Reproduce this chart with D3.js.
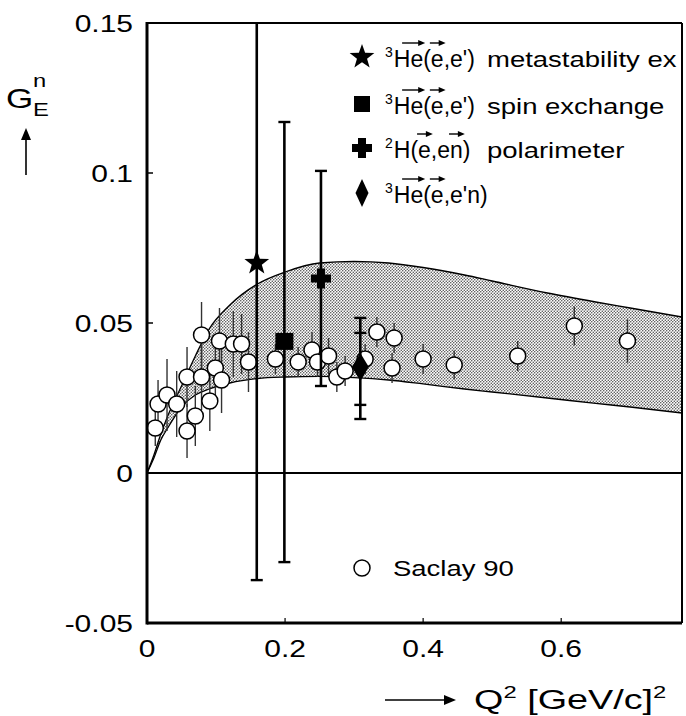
<!DOCTYPE html>
<html>
<head>
<meta charset="utf-8">
<script src="https://cdn.jsdelivr.net/npm/d3@7"></script>
<style>
  body { margin: 0; background: #fff; }
  text { font-family: "Liberation Sans", Arial, sans-serif; fill: #000; }
</style>
</head>
<body>
<div id="container"></div>
<script>
/* CONSTANTS AND GLOBALS */
const width = 686,
      height = 716,
      margin = {top: 23, bottom: 93, left: 147, right: 4};

// the scanned figure is stretched sideways, so most text is too
const sx = 1.25;

/* DATA */
// theory band
const bandQ     = [0, 0.01, 0.02, 0.03, 0.05, 0.07, 0.09, 0.12, 0.16, 0.2, 0.25, 0.3, 0.35, 0.4, 0.46, 0.5, 0.58, 0.65, 0.7, 0.775];
const bandUpper = [0, 0.006, 0.013, 0.019, 0.029, 0.039, 0.048, 0.056, 0.063, 0.067, 0.070, 0.0705, 0.070, 0.0685, 0.066, 0.064, 0.060, 0.057, 0.055, 0.052];
const bandLower = [0, 0.005, 0.011, 0.015, 0.022, 0.026, 0.028, 0.030, 0.0315, 0.032, 0.0322, 0.0318, 0.031, 0.0297, 0.028, 0.027, 0.025, 0.0232, 0.022, 0.020];

// Saclay 90 points
const saclayQ   = [0.012, 0.016, 0.029, 0.043, 0.058, 0.070, 0.058, 0.079, 0.091, 0.099, 0.108, 0.079, 0.105, 0.125, 0.137, 0.147, 0.186, 0.219, 0.239, 0.247, 0.263, 0.275, 0.287, 0.316, 0.333, 0.355, 0.358, 0.400, 0.445, 0.537, 0.619, 0.696];
const saclayG   = [0.015, 0.023, 0.026, 0.023, 0.014, 0.019, 0.032, 0.032, 0.024, 0.035, 0.031, 0.046, 0.044, 0.043, 0.043, 0.037, 0.038, 0.037, 0.041, 0.037, 0.039, 0.032, 0.034, 0.038, 0.047, 0.035, 0.045, 0.038, 0.036, 0.039, 0.049, 0.044];
const saclayErr = [0.006, 0.008, 0.012, 0.011, 0.009, 0.010, 0.010, 0.011, 0.010, 0.011, 0.011, 0.011, 0.011, 0.011, 0.010, 0.010, 0.005, 0.005, 0.006, 0.005, 0.006, 0.005, 0.005, 0.005, 0.005, 0.005, 0.005, 0.005, 0.0048, 0.005, 0.0065, 0.0072];

// polarisation experiments: star, square, cross, diamond
const expNames = ["metastability ex", "spin exchange", "polarimeter", ""];
const expShape = ["star", "square", "cross", "diamond"];
const expQ     = [0.159, 0.199, 0.252, 0.309];
const expG     = [0.070, 0.0437, 0.0648, 0.0353];
const expLo    = [-0.0357, -0.0297, 0.029, 0.018];
const expHi    = [0.176, 0.117, 0.1007, 0.0517];
// inner (statistical) bar, only the diamond has one
const diamondLo = 0.0227, diamondHi = 0.0467;

const xTicks = [0, 0.2, 0.4, 0.6];
const yTicks = [-0.05, 0, 0.05, 0.1, 0.15];
const yTickLabels = ["-0.05", "0", "0.05", "0.1", "0.15"];

/* SCALES */
const xScale = d3.scaleLinear().domain([0, 0.775]).range([margin.left, width - margin.right]);
const yScale = d3.scaleLinear().domain([-0.05, 0.15]).range([height - margin.bottom, margin.top]);

const svg = d3.select("#container")
  .append("svg")
  .attr("width", width)
  .attr("height", height);

const defs = svg.append("defs");
const pat = defs.append("pattern")
  .attr("id", "stipple")
  .attr("patternUnits", "userSpaceOnUse")
  .attr("width", 3).attr("height", 3);
pat.append("rect").attr("width", 3).attr("height", 3).attr("fill", "#fff");
pat.append("circle").attr("cx", 0.75).attr("cy", 0.75).attr("r", 0.75).attr("fill", "#222");
pat.append("circle").attr("cx", 2.25).attr("cy", 2.25).attr("r", 0.75).attr("fill", "#222");

defs.append("clipPath").attr("id", "plotClip")
  .append("rect")
  .attr("x", xScale(0)).attr("y", yScale(0.15))
  .attr("width", xScale(0.775) - xScale(0))
  .attr("height", yScale(-0.05) - yScale(0.15));

function sText(g, x, y, str, size, anchor, stretch) {
  return g.append("text")
    .attr("transform", `translate(${x},${y}) scale(${stretch || sx},1)`)
    .attr("text-anchor", anchor || "start")
    .style("font-size", size + "px")
    .text(str);
}

function starPath(R, r) {
  const pts = [];
  for (let i = 0; i < 10; i++) {
    const a = -Math.PI / 2 + i * Math.PI / 5;
    const rad = i % 2 === 0 ? R : r;
    pts.push([rad * Math.cos(a), rad * Math.sin(a)]);
  }
  return "M" + pts.map(p => p.join(",")).join("L") + "Z";
}

function marker(g, shape, x, y) {
  if (shape === "star") {
    g.append("path").attr("d", starPath(13, 5.3)).attr("transform", `translate(${x},${y})`).attr("fill", "#000");
  } else if (shape === "square") {
    g.append("rect").attr("x", x - 9).attr("y", y - 9).attr("width", 18).attr("height", 17).attr("fill", "#000");
  } else if (shape === "cross") {
    g.append("path").attr("transform", `translate(${x},${y})`).attr("fill", "#000")
      .attr("d", "M-4,-10H4V-4H10V4H4V10H-4V4H-10V-4H-4Z");
  } else if (shape === "diamond") {
    g.append("path").attr("transform", `translate(${x},${y})`).attr("fill", "#000")
      .attr("d", "M0,-14L8.5,0L0,14L-8.5,0Z");
  }
}

/* BAND */
const plot = svg.append("g").attr("clip-path", "url(#plotClip)");

const area = d3.area()
  .x((d, i) => xScale(bandQ[i]))
  .y0((d, i) => yScale(bandLower[i]))
  .y1((d, i) => yScale(bandUpper[i]))
  .curve(d3.curveMonotoneX);

plot.append("path")
  .datum(bandQ)
  .attr("d", area)
  .attr("fill", "url(#stipple)")
  .attr("opacity", 0.85);

const lineUp = d3.line().x((d, i) => xScale(bandQ[i])).y((d, i) => yScale(bandUpper[i])).curve(d3.curveMonotoneX);
const lineLo = d3.line().x((d, i) => xScale(bandQ[i])).y((d, i) => yScale(bandLower[i])).curve(d3.curveMonotoneX);
plot.append("path").datum(bandQ).attr("d", lineUp).attr("fill", "none").attr("stroke", "#000").attr("stroke-width", 1.3);
plot.append("path").datum(bandQ).attr("d", lineLo).attr("fill", "none").attr("stroke", "#000").attr("stroke-width", 1.3);

// zero line
plot.append("line")
  .attr("x1", xScale(0)).attr("x2", xScale(0.775))
  .attr("y1", yScale(0)).attr("y2", yScale(0))
  .attr("stroke", "#000").attr("stroke-width", 2.2);

/* SACLAY POINTS */
plot.selectAll(".sac-err")
  .data(saclayQ)
  .join("line")
  .attr("class", "sac-err")
  .attr("x1", d => xScale(d)).attr("x2", d => xScale(d))
  .attr("y1", (d, i) => yScale(saclayG[i] - saclayErr[i]))
  .attr("y2", (d, i) => yScale(saclayG[i] + saclayErr[i]))
  .attr("stroke", "#333").attr("stroke-width", 1.4);

plot.selectAll(".sac-pt")
  .data(saclayQ)
  .join("circle")
  .attr("class", "sac-pt")
  .attr("cx", d => xScale(d))
  .attr("cy", (d, i) => yScale(saclayG[i]))
  .attr("r", 8)
  .attr("fill", "#fff")
  .attr("stroke", "#000")
  .attr("stroke-width", 1.5);

/* POLARISATION EXPERIMENTS */
expQ.forEach((q, i) => {
  const x = xScale(q);
  plot.append("line")
    .attr("x1", x).attr("x2", x)
    .attr("y1", yScale(expLo[i])).attr("y2", yScale(expHi[i]))
    .attr("stroke", "#000").attr("stroke-width", 2.6);
  [expLo[i], expHi[i]].forEach(v => {
    plot.append("line")
      .attr("x1", x - 6).attr("x2", x + 6)
      .attr("y1", yScale(v)).attr("y2", yScale(v))
      .attr("stroke", "#000").attr("stroke-width", 2.4);
  });
  if (expShape[i] === "diamond") {
    [diamondLo, diamondHi].forEach(v => {
      plot.append("line")
        .attr("x1", x - 6).attr("x2", x + 6)
        .attr("y1", yScale(v)).attr("y2", yScale(v))
        .attr("stroke", "#000").attr("stroke-width", 2.4);
    });
  }
  marker(plot, expShape[i], x, yScale(expG[i]));
});

/* AXES */
const x0 = xScale(0), x1 = xScale(0.775), yTop = yScale(0.15), yBot = yScale(-0.05);
svg.append("line").attr("x1", x0).attr("x2", x0).attr("y1", yTop - 1).attr("y2", yBot + 1.5).attr("stroke", "#000").attr("stroke-width", 3);
svg.append("line").attr("x1", x0).attr("x2", x1).attr("y1", yBot).attr("y2", yBot).attr("stroke", "#000").attr("stroke-width", 3);
svg.append("line").attr("x1", x0).attr("x2", x1).attr("y1", yTop).attr("y2", yTop).attr("stroke", "#000").attr("stroke-width", 2);
svg.append("line").attr("x1", x1).attr("x2", x1).attr("y1", yTop).attr("y2", yBot).attr("stroke", "#000").attr("stroke-width", 2);

// ticks
svg.selectAll(".ytick")
  .data(yTicks)
  .join("line")
  .attr("class", "ytick")
  .attr("x1", x0).attr("x2", x0 + 6)
  .attr("y1", d => yScale(d)).attr("y2", d => yScale(d))
  .attr("stroke", "#000").attr("stroke-width", 1.5);

svg.selectAll(".xtick")
  .data(xTicks)
  .join("line")
  .attr("class", "xtick")
  .attr("x1", d => xScale(d)).attr("x2", d => xScale(d))
  .attr("y1", yBot).attr("y2", yBot - 5)
  .attr("stroke", "#000").attr("stroke-width", 1.2);

// tick labels
yTicks.forEach((t, i) => {
  sText(svg, x0 - 14, yScale(t) + 9, yTickLabels[i], 24, "end");
});
xTicks.forEach(t => {
  sText(svg, xScale(t), 657, t === 0 ? "0" : String(t), 24, "middle");
});

/* AXIS TITLES */
function upArrow(x, y1, y2) {
  svg.append("line").attr("x1", x).attr("x2", x).attr("y1", y1).attr("y2", y2 + 8).attr("stroke", "#000").attr("stroke-width", 1.6);
  svg.append("path").attr("d", `M${x},${y2}L${x - 5},${y2 + 12}L${x + 5},${y2 + 12}Z`).attr("fill", "#000");
}
function rightArrow(x1, x2, y) {
  svg.append("line").attr("x1", x1).attr("x2", x2 - 8).attr("y1", y).attr("y2", y).attr("stroke", "#000").attr("stroke-width", 1.6);
  svg.append("path").attr("d", `M${x2},${y}L${x2 - 12},${y - 5}L${x2 - 12},${y + 5}Z`).attr("fill", "#000");
}

sText(svg, 6, 108, "G", 28);
sText(svg, 33, 87, "n", 19);
sText(svg, 33, 116, "E", 19);
upArrow(26, 175, 128);

rightArrow(385, 456, 700);
const xt = svg.append("text")
  .attr("transform", `translate(474,709) scale(1.4,1)`)
  .style("font-size", "27px");
xt.append("tspan").text("Q");
xt.append("tspan").attr("dy", -11).style("font-size", "17px").text("2");
xt.append("tspan").attr("dy", 11).text(" [GeV/c]");
xt.append("tspan").attr("dy", -11).style("font-size", "17px").text("2");

/* LEGEND */
const legendMarkerX = 362,
      legendY = [57, 104, 148, 193],
      legendSup = ["3", "3", "2", "3"],
      legendReaction = ["He(e,e')", "He(e,e')", "H(e,en)", "He(e,e'n)"],
      legendArrows = [[[0, 1], [3, 3]], [[0, 1], [3, 3]], [[2, 2], [5, 5]], [[0, 1], [3, 3]]];

const legend = svg.append("g");
expShape.forEach((shape, i) => {
  const cy = legendY[i];
  if (shape === "star") marker(legend, shape, legendMarkerX, cy);
  else if (shape === "square") legend.append("rect").attr("x", legendMarkerX - 8).attr("y", cy - 8).attr("width", 16).attr("height", 16).attr("fill", "#000");
  else if (shape === "cross") marker(legend, shape, legendMarkerX, cy);
  else legend.append("path").attr("transform", `translate(${legendMarkerX},${cy})`).attr("d", "M0,-14L6.5,0L0,14L-6.5,0Z").attr("fill", "#000");

  const base = cy + 10;
  const g = legend.append("g").attr("transform", `translate(385,${base})`);
  const t = g.append("text").style("font-size", "23px");
  t.append("tspan").attr("dy", -10).style("font-size", "14px").text(legendSup[i]);
  t.append("tspan").attr("dx", 1).attr("dy", 10).text(legendReaction[i]);

  // arrows over polarised particles
  const node = t.node();
  const off = legendSup[i].length;
  legendArrows[i].forEach(([a, b]) => {
    const e1 = node.getExtentOfChar(off + a), e2 = node.getExtentOfChar(off + b);
    const ax1 = a === b ? e1.x - 1 : Math.max(e1.x + e1.width * 0.5, 11),
          ax2 = e2.x + e2.width + 2, ay = -24;
    g.append("line").attr("x1", ax1).attr("x2", ax2 - 4).attr("y1", ay).attr("y2", ay).attr("stroke", "#000").attr("stroke-width", 1.4);
    g.append("path").attr("d", `M${ax2},${ay}L${ax2 - 7},${ay - 3}L${ax2 - 7},${ay + 3}Z`).attr("fill", "#000");
  });

  if (expNames[i]) sText(legend, 487, base, expNames[i], 22);
});

// Saclay legend
legend.append("circle").attr("cx", 362).attr("cy", 568).attr("r", 8).attr("fill", "#fff").attr("stroke", "#000").attr("stroke-width", 1.5);
sText(legend, 393, 576, "Saclay 90", 22);
</script>
</body>
</html>
